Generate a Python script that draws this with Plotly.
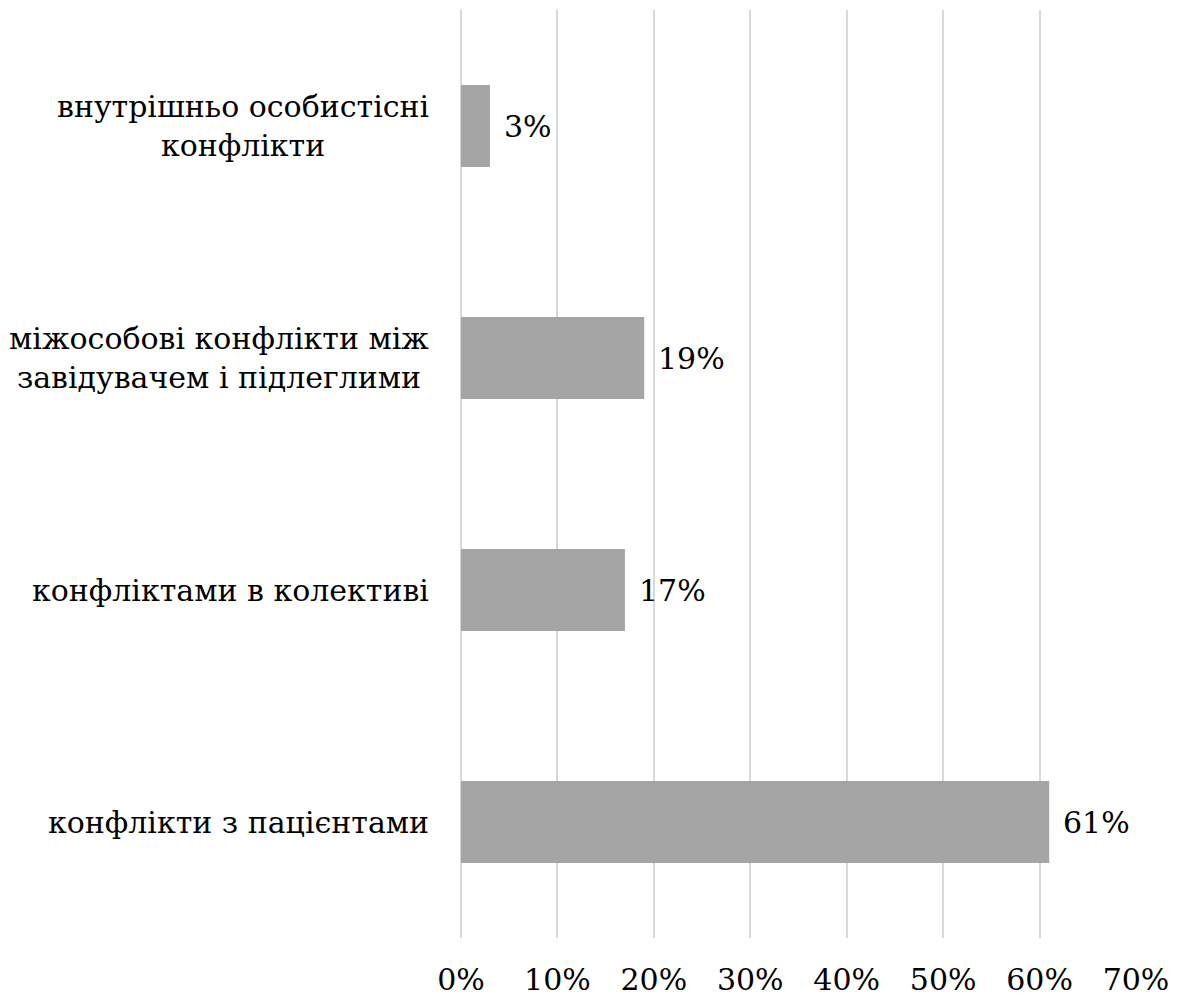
import plotly.graph_objects as go

# Categories listed bottom-to-top
categories = [
    "конфлікти з пацієнтами",
    "конфліктами в колективі",
    "міжособові конфлікти між<br>завідувачем і підлеглими",
    "внутрішньо особистісні<br>конфлікти",
]
values = [61, 17, 19, 3]
tick_vals = [0, 10, 20, 30, 40, 50, 60, 70]
tick_text = ["0%", "10%", "20%", "30%", "40%", "50%", "60%", "70%"]

FONT = "DejaVu Serif"
FS = 30

fig = go.Figure()
fig.add_trace(go.Bar(
    y=categories,
    x=values,
    orientation="h",
    marker=dict(color="#A5A5A5", line=dict(width=0)),
    hoverinfo="skip",
))

# value labels just past each bar end
for c, v in zip(categories, values):
    fig.add_annotation(
        x=v, y=c, xref="x", yref="y",
        text=f"{v}%", showarrow=False,
        xanchor="left", yanchor="middle", xshift=12,
        font=dict(family=FONT, size=FS, color="#000000"),
    )

# category labels, centered lines, right edge near the axis
for c in categories:
    fig.add_annotation(
        x=0, y=c, xref="paper", yref="y",
        text=c, showarrow=False,
        xanchor="right", yanchor="middle", align="center", xshift=-30,
        font=dict(family=FONT, size=FS, color="#000000"),
    )

fig.update_layout(
    width=1177, height=998,
    margin=dict(l=461, r=41, t=10, b=60, autoexpand=False),
    paper_bgcolor="white", plot_bgcolor="white",
    bargap=0.647,
    showlegend=False,
    font=dict(family=FONT),
    xaxis=dict(
        range=[0, 70],
        tickvals=tick_vals, ticktext=tick_text,
        showgrid=True, gridcolor="#D9D9D9", gridwidth=1.5,
        zeroline=True, zerolinecolor="#D9D9D9", zerolinewidth=1.5,
        showline=False, ticks="",
        ticklabelstandoff=21,
        automargin=False,
        tickfont=dict(family=FONT, size=FS, color="#000000"),
        fixedrange=True,
    ),
    yaxis=dict(
        showticklabels=False, showgrid=False, zeroline=False,
        showline=False, ticks="", automargin=False,
        fixedrange=True,
    ),
)

fig.write_html("out.html")
